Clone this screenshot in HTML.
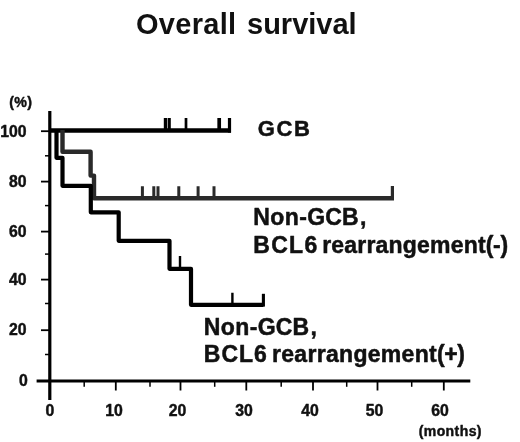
<!DOCTYPE html>
<html><head><meta charset="utf-8"><title>Overall survival</title>
<style>
html,body{margin:0;padding:0;background:#fff;}
svg{display:block;}
text{font-family:"Liberation Sans",Arial,sans-serif;font-weight:bold;fill:#111;}
</style></head><body>
<svg width="520" height="442" viewBox="0 0 520 442">
<rect width="520" height="442" fill="#fff"/>
<!-- title -->
<text x="136" y="33.7" font-size="29" letter-spacing="0.3">Overall</text>
<text x="247" y="33.7" font-size="29">survival</text>
<!-- axes -->
<g stroke="#000" fill="none">
<line x1="49.8" y1="111" x2="49.8" y2="400" stroke-width="3.2"/>
<line x1="36.6" y1="381" x2="470.3" y2="381" stroke-width="3.2"/>
<g stroke-width="1.8">
<line x1="41" y1="131.2" x2="49" y2="131.2"/>
<line x1="41" y1="181.6" x2="49" y2="181.6"/>
<line x1="41" y1="231.6" x2="49" y2="231.6"/>
<line x1="41" y1="279.6" x2="49" y2="279.6"/>
<line x1="41" y1="330.2" x2="49" y2="330.2"/>
<line x1="115.8" y1="381" x2="115.8" y2="390.5"/>
<line x1="180.5" y1="381" x2="180.5" y2="390.5"/>
<line x1="246.3" y1="381" x2="246.3" y2="390.5"/>
<line x1="313" y1="381" x2="313" y2="390.5"/>
<line x1="377.5" y1="381" x2="377.5" y2="390.5"/>
<line x1="443.8" y1="381" x2="443.8" y2="390.5"/>
</g>
<g stroke-width="1.5">
<line x1="45" y1="155.8" x2="49" y2="155.8"/>
<line x1="45" y1="205.6" x2="49" y2="205.6"/>
<line x1="45" y1="254.1" x2="49" y2="254.1"/>
<line x1="45" y1="303.5" x2="49" y2="303.5"/>
<line x1="45" y1="354.5" x2="49" y2="354.5"/>
<line x1="84.2" y1="381" x2="84.2" y2="386.8"/>
<line x1="150" y1="381" x2="150" y2="386.8"/>
<line x1="214.7" y1="381" x2="214.7" y2="386.8"/>
<line x1="281.2" y1="381" x2="281.2" y2="386.8"/>
<line x1="346.7" y1="381" x2="346.7" y2="386.8"/>
<line x1="411.7" y1="381" x2="411.7" y2="386.8"/>
</g>
</g>
<!-- curves -->
<g fill="none" stroke-linejoin="round">
<!-- GCB -->
<path d="M50 130.5H231" stroke="#000" stroke-width="4.3"/>
<path d="M165.4 130V118M169.2 130V118" stroke="#000" stroke-width="3.2"/>
<path d="M186 130V118" stroke="#000" stroke-width="2.7"/>
<path d="M219.2 130V118" stroke="#000" stroke-width="3.7"/>
<path d="M229.5 132.6V118" stroke="#000" stroke-width="3.2"/>
<!-- BCL6 - (grey) -->
<path d="M62.5 130V151.8H90.6V175.6H94V198.3H394" stroke="#2a2a2a" stroke-width="4.4"/>
<path d="M142.4 197V186.2M153.8 197V186.2M158 197V186.2M178.8 197V186.2M198.1 197V186.2M214 197V186.2" stroke="#2a2a2a" stroke-width="3"/>
<path d="M392.4 200V186" stroke="#2a2a2a" stroke-width="3.2"/>
<!-- BCL6 + (black) -->
<path d="M56.5 130V157.8H62.5V185.8H90.8V212.3H118.7V240.8H169.5V268.8H191V304.8H263.4" stroke="#000" stroke-width="4.2"/>
<path d="M263.4 306.6V293.8" stroke="#000" stroke-width="3.1"/>
<path d="M180 268V256M232.4 304V292.7" stroke="#000" stroke-width="2.4"/>
</g>
<!-- labels -->
<g stroke="#111" stroke-width="0.5" stroke-linejoin="round">
<text x="257.7" y="136" font-size="22" letter-spacing="1.7">GCB</text>
<text x="253.3" y="224.8" font-size="23"><tspan letter-spacing="0.4">Non-</tspan><tspan letter-spacing="0.1">GCB</tspan><tspan dx="1.2">,</tspan></text>
<text x="253.3" y="253.3" font-size="23"><tspan letter-spacing="1.3">BCL6</tspan> <tspan x="322.2" letter-spacing="0.2">rearrangement</tspan><tspan letter-spacing="-0.4">(-)</tspan></text>
<text x="203.8" y="334.6" font-size="23"><tspan letter-spacing="0.4">Non-</tspan><tspan letter-spacing="0.1">GCB</tspan><tspan dx="1.2">,</tspan></text>
<text x="203.8" y="362.4" font-size="23"><tspan letter-spacing="1">BCL6</tspan> <tspan x="272" letter-spacing="0.3">rearrangement</tspan><tspan letter-spacing="-0.4">(+)</tspan></text>
</g>
<!-- axis labels -->
<g font-size="15.8" stroke="#111" stroke-width="0.45" stroke-linejoin="round">
<text x="9.3" y="107.4" font-size="14.2" letter-spacing="0.3">(%)</text>
<text x="26.5" y="136.7" text-anchor="end">100</text>
<text x="26.5" y="187.3" text-anchor="end">80</text>
<text x="26.5" y="237.3" text-anchor="end">60</text>
<text x="26.5" y="285" text-anchor="end">40</text>
<text x="26.5" y="335.2" text-anchor="end">20</text>
<text x="27.8" y="385.8" text-anchor="end">0</text>
<text x="50" y="415.7" text-anchor="middle">0</text>
<text x="114.1" y="415.7" text-anchor="middle">10</text>
<text x="177.5" y="415.7" text-anchor="middle">20</text>
<text x="244" y="415.7" text-anchor="middle">30</text>
<text x="310" y="415.7" text-anchor="middle">40</text>
<text x="374.6" y="415.7" text-anchor="middle">50</text>
<text x="440" y="415.7" text-anchor="middle">60</text>
<text x="418.7" y="436.3" font-size="14" letter-spacing="0.42">(months)</text>
</g>
</svg>
</body></html>
